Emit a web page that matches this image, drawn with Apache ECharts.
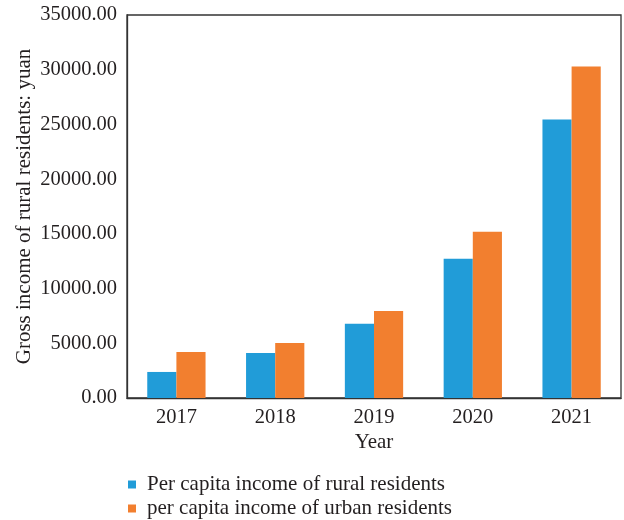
<!DOCTYPE html>
<html>
<head>
<meta charset="utf-8">
<script src="https://cdn.jsdelivr.net/npm/echarts@6/dist/echarts.min.js"></script>
<style>
  html, body { margin: 0; padding: 0; background: #fff; }
  #chart { width: 624px; height: 520px; }
</style>
</head>
<body>
<div id="chart"></div>
<script>
// Income per capita by year (yuan)
const years = ['2017', '2018', '2019', '2020', '2021'];
const ruralIncome = [2380, 4120, 6780, 12720, 25440];
const urbanIncome = [4210, 5030, 7960, 15190, 30290];
const seriesNames = ['Per capita income of rural residents', 'per capita income of urban residents'];
const yTicks = { min: 0, max: 35000, interval: 5000 };

const FONT = '"Liberation Serif", "DejaVu Serif", serif';
const TEXT = '#231f20';
const COLORS = ['#219cd8', '#f27f2f'];

// one legend per row, stacked under the plot
const legendRow = (name, top) => ({
  left: 123, top: top,
  itemWidth: 8, itemHeight: 8,
  icon: 'rect',
  textStyle: { fontFamily: FONT, fontSize: 21, color: TEXT, padding: [0, 0, 0, 6] },
  data: [name]
});

const chart = echarts.init(document.getElementById('chart'), null, { renderer: 'canvas' });
chart.setOption({
  animation: false,
  backgroundColor: '#ffffff',
  textStyle: { fontFamily: FONT, color: TEXT },
  grid: {
    left: 127, top: 15, right: 3, bottom: 122,
    show: true, borderColor: '#333', borderWidth: 1.3, backgroundColor: 'transparent'
  },
  legend: [legendRow(seriesNames[0], 469), legendRow(seriesNames[1], 493)],
  xAxis: {
    type: 'category',
    data: years,
    name: 'Year',
    nameLocation: 'middle',
    nameGap: 34,
    nameMoveOverlap: false,
    nameTextStyle: { fontFamily: FONT, fontSize: 21, color: TEXT },
    axisLine: { show: true, lineStyle: { color: '#333', width: 1.3 } },
    axisTick: { show: false },
    axisLabel: { fontFamily: FONT, fontSize: 20.5, color: TEXT, margin: 9 }
  },
  yAxis: {
    type: 'value',
    min: yTicks.min, max: yTicks.max, interval: yTicks.interval,
    name: 'Gross income of rural residents: yuan',
    nameLocation: 'middle',
    nameGap: 92,
    nameMoveOverlap: false,
    nameTextStyle: { fontFamily: FONT, fontSize: 21, color: TEXT },
    axisLine: { show: true, lineStyle: { color: '#333', width: 1.3 } },
    axisTick: { show: false },
    splitLine: { show: false },
    axisLabel: {
      fontFamily: FONT, fontSize: 20.5, color: TEXT, margin: 10,
      formatter: v => v.toFixed(2)
    }
  },
  series: [
    {
      name: seriesNames[0], type: 'bar', data: ruralIncome,
      itemStyle: { color: COLORS[0] },
      barGap: '0%', barCategoryGap: '41%'
    },
    {
      name: seriesNames[1], type: 'bar', data: urbanIncome,
      itemStyle: { color: COLORS[1] },
      barGap: '0%', barCategoryGap: '41%'
    }
  ]
});
</script>
</body>
</html>
